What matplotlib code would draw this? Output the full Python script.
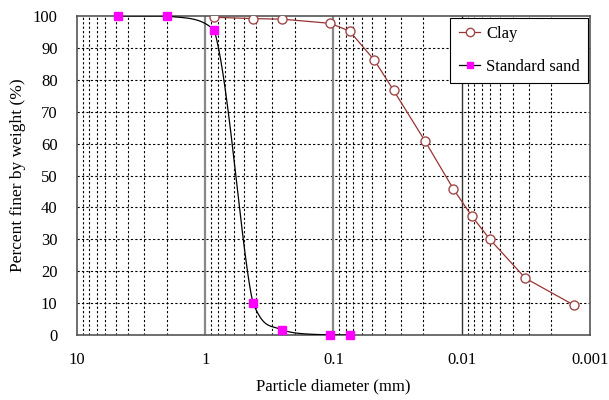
import matplotlib
matplotlib.use("Agg")
import matplotlib.pyplot as plt
import numpy as np

plt.rcParams['font.family'] = ['Liberation Serif', 'DejaVu Serif']

# grain size data (mm, percent finer)
clay_d = [0.855, 0.425, 0.25, 0.106, 0.075, 0.0479, 0.034, 0.0194, 0.0116,
          0.00835, 0.00604, 0.00319, 0.00134]
clay_p = [99.6, 99.2, 99.0, 97.7, 95.3, 86.1, 76.7, 60.9, 45.7, 37.3, 30.0, 17.8, 9.4]

sand_d = [4.75, 2.0, 0.85, 0.425, 0.25, 0.106, 0.075]
sand_p = [100.0, 100.0, 95.5, 10.1, 1.6, 0.0, 0.0]

x_ticks = [10, 1, 0.1, 0.01, 0.001]
x_tick_labels = ["10", "1", "0.1", "0.01", "0.001"]
y_ticks = list(range(0, 101, 10))


def smooth_line(d, p, n=40):
    # smoothed line (Catmull-Rom bezier) in screen-like units,
    # control points kept inside each segment's y-range so it doesn't overshoot
    u = np.log10(d) * 128.0
    v = np.asarray(p, float) * 3.19
    pts = np.column_stack([u, v])
    pts = np.vstack([pts[0], pts, pts[-1]])
    out = []
    t = np.linspace(0, 1, n)[:, None]
    for i in range(1, len(pts) - 2):
        p0, p1, p2, p3 = pts[i - 1], pts[i], pts[i + 1], pts[i + 2]
        c1 = p1 + (p2 - p0) / 6.0
        c2 = p2 - (p3 - p1) / 6.0
        lo, hi = min(p1[1], p2[1]), max(p1[1], p2[1])
        c1[1] = np.clip(c1[1], lo, hi)
        c2[1] = np.clip(c2[1], lo, hi)
        seg = ((1 - t)**3) * p1 + 3 * ((1 - t)**2) * t * c1 + 3 * (1 - t) * t**2 * c2 + t**3 * p2
        out.append(seg)
    out = np.vstack(out)
    return 10 ** (out[:, 0] / 128.0), out[:, 1] / 3.19


fig = plt.figure(figsize=(6.09, 4.0), dpi=100)
ax = fig.add_axes([0.1264, 0.1625, 0.8424, 0.7975])

ax.set_xscale('log')
ax.set_xlim(10, 0.001)
ax.set_ylim(0, 100)

# grid
for dec in [1, 0.1, 0.01, 0.001]:
    for k in range(2, 10):
        ax.axvline(dec * k, color='black', lw=0.8, ls=(0, (2, 2)), zorder=1)
for yv in y_ticks[1:-1]:
    ax.axhline(yv, color='black', lw=0.8, ls=(0, (2, 2)), zorder=1)
for xv in [1, 0.1]:
    ax.axvline(xv, color='#888888', lw=1.6, zorder=1)
ax.axvline(0.01, color='#333333', lw=1.0, zorder=1)

# smoothed sand curve
sx, sy = smooth_line(sand_d, sand_p)
ax.plot(sx, sy, color='black', lw=0.9, zorder=3)

ax.plot(clay_d, clay_p, color='#993333', lw=0.9, marker='o', markersize=6.5,
        markerfacecolor='white', markeredgecolor='#A04848', markeredgewidth=1.0,
        zorder=4)
ax.plot(sand_d, sand_p, ls='none', marker='s', markersize=6,
        markerfacecolor='#FF00FF', markeredgecolor='#FF00FF', zorder=5, clip_on=False)

# legend handles
h_clay, = ax.plot([], [], color='#993333', lw=0.9, marker='o', markersize=6,
                  markerfacecolor='white', markeredgecolor='#A04848')
h_sand, = ax.plot([], [], color='black', lw=0.9, marker='s', markersize=5,
                  markerfacecolor='#FF00FF', markeredgecolor='#FF00FF')
leg = ax.legend([h_clay, h_sand], ['Clay', 'Standard sand'], loc='upper right',
                bbox_to_anchor=(1.0, 1.0), fancybox=False, framealpha=1,
                edgecolor='black', fontsize=12, handlelength=1.3,
                handletextpad=0.35, labelspacing=1.0, borderpad=0.5,
                borderaxespad=0.1)
leg.get_frame().set_linewidth(0.8)
leg.set_zorder(10)

ax.set_xticks(x_ticks)
ax.set_xticklabels(x_tick_labels)
ax.set_xticks([], minor=True)
ax.set_yticks(y_ticks)
ax.tick_params(length=0, labelsize=12, pad=14)
ax.tick_params(axis='x', pad=12)

ax.set_xlabel('Particle diameter (mm)', fontsize=12, labelpad=8)
ax.set_ylabel('Percent finer by weight (%)', fontsize=12.5, labelpad=5)

for s in ax.spines.values():
    s.set_color('#555555')
    s.set_linewidth(1.2)

fig.savefig('out.png', dpi=100)
